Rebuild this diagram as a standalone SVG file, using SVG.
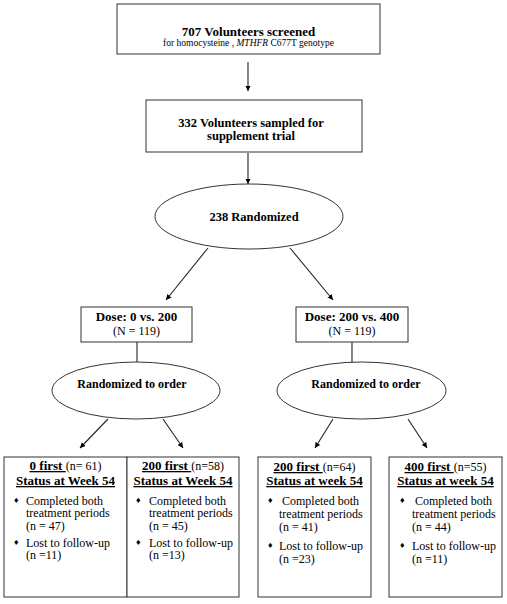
<svg xmlns="http://www.w3.org/2000/svg" width="507" height="604" viewBox="0 0 507 604">
<defs>
<marker id="ah" viewBox="0 0 8 8" refX="8" refY="4" markerWidth="5.5" markerHeight="5.5" orient="auto" markerUnits="userSpaceOnUse">
<path d="M0,0 L8,4 L0,8 z" fill="#000"/>
</marker>
</defs>
<style>
.bx{fill:#fff;stroke:#333;stroke-width:1}
.ln{stroke:#222;stroke-width:1.1;fill:none}
.ar{stroke:#222;stroke-width:1.1;fill:none;marker-end:url(#ah)}
text{font-family:"Liberation Serif","Times New Roman",serif;fill:#000}
.b{font-weight:bold;font-size:13px}
.r{font-size:12px}
.d{font-size:9px}
.m{text-anchor:middle}
.u{text-decoration:underline}
</style>
<rect width="507" height="604" fill="#fff"/>
<g id="connectors">
<line class="ar" x1="248" y1="62" x2="248" y2="91"/>
<line class="ar" x1="248" y1="153" x2="248" y2="184"/>
<line class="ar" x1="208" y1="248" x2="166" y2="300"/>
<line class="ar" x1="290" y1="248" x2="333" y2="300"/>
<line class="ln" x1="137" y1="342" x2="137" y2="362"/>
<line class="ln" x1="352" y1="342" x2="352" y2="362"/>
<line class="ar" x1="108" y1="419" x2="80" y2="448"/>
<line class="ar" x1="163" y1="419" x2="183" y2="448"/>
<line class="ar" x1="333" y1="419" x2="315" y2="448"/>
<line class="ar" x1="408" y1="419" x2="427" y2="448"/>
</g>
<g id="screened">
<rect class="bx" x="117" y="4" width="263" height="50"/>
<text class="b m" x="248.5" y="36">707 Volunteers screened</text>
<text class="m" x="248.5" y="46" style="font-size:9.5px">for homocysteine , <tspan font-style="italic">MTHFR</tspan> C677T genotype</text>
</g>
<g id="sampled">
<rect class="bx" x="146" y="100" width="216" height="52"/>
<text class="b m" x="251" y="126.5" style="font-size:12.5px">332 Volunteers sampled for</text>
<text class="b m" x="251" y="139.5" style="font-size:12.5px">supplement trial</text>
</g>
<g id="randomized">
<ellipse class="bx" cx="249" cy="216.5" rx="94" ry="32.5"/>
<text class="b m" x="254" y="221" style="font-size:12.5px">238 Randomized</text>
</g>
<g id="dose1">
<rect class="bx" x="81" y="307" width="111" height="35"/>
<text class="b m" x="136.5" y="321">Dose: 0 vs. 200</text>
<text class="r m" x="136.5" y="335">(N = 119)</text>
</g>
<g id="dose2">
<rect class="bx" x="296" y="307" width="112" height="35"/>
<text class="b m" x="352" y="321">Dose: 200 vs. 400</text>
<text class="r m" x="352" y="335">(N = 119)</text>
</g>
<g id="order1">
<ellipse class="bx" cx="136" cy="390.5" rx="84" ry="28.5"/>
<text class="b m" x="132" y="388" style="font-size:12px">Randomized  to order</text>
</g>
<g id="order2">
<ellipse class="bx" cx="361.5" cy="390.5" rx="84.5" ry="28.5"/>
<text class="b m" x="366" y="388" style="font-size:12px">Randomized  to order</text>
</g>
<g id="first0">
<rect class="bx" x="4" y="457" width="123" height="140"/>
<text class="m r" x="65.5" y="470"><tspan class="b u">0 first </tspan>(n= 61)</text>
<text class="b m u" x="65.5" y="485">Status  at Week 54</text>
<text class="d" x="14" y="503">♦</text>
<text class="r" x="26" y="505">Completed both</text>
<text class="r" x="26" y="517">treatment periods</text>
<text class="r" x="26" y="530">(n = 47)</text>
<text class="d" x="14" y="545">♦</text>
<text class="r" x="26" y="547">Lost to follow-up</text>
<text class="r" x="26" y="559">(n =11)</text>
</g>
<g id="first200a">
<rect class="bx" x="127" y="457" width="112" height="140"/>
<text class="m r" x="183" y="470"><tspan class="b u">200 first </tspan>(n=58)</text>
<text class="b m u" x="183" y="485">Status  at Week 54</text>
<text class="d" x="136" y="503">♦</text>
<text class="r" x="149" y="505">Completed both</text>
<text class="r" x="149" y="517">treatment periods</text>
<text class="r" x="149" y="530">(n = 45)</text>
<text class="d" x="136" y="545">♦</text>
<text class="r" x="149" y="547">Lost to follow-up</text>
<text class="r" x="149" y="559">(n =13)</text>
</g>
<g id="first200b">
<rect class="bx" x="258" y="457" width="113" height="140"/>
<text class="m r" x="314.5" y="471"><tspan class="b u">200 first </tspan>(n=64)</text>
<text class="b m u" x="314.5" y="485">Status  at week 54</text>
<text class="d" x="268" y="503">♦</text>
<text class="r" x="282" y="505">Completed both</text>
<text class="r" x="279" y="518">treatment periods</text>
<text class="r" x="279" y="531">(n = 41)</text>
<text class="d" x="268" y="548">♦</text>
<text class="r" x="279" y="550">Lost to follow-up</text>
<text class="r" x="279" y="563">(n =23)</text>
</g>
<g id="first400">
<rect class="bx" x="389" y="457" width="113" height="140"/>
<text class="m r" x="445.5" y="471"><tspan class="b u">400 first </tspan>(n=55)</text>
<text class="b m u" x="445.5" y="485">Status  at week 54</text>
<text class="d" x="400" y="503">♦</text>
<text class="r" x="415" y="505">Completed both</text>
<text class="r" x="412" y="518">treatment periods</text>
<text class="r" x="412" y="531">(n = 44)</text>
<text class="d" x="400" y="548">♦</text>
<text class="r" x="412" y="550">Lost to follow-up</text>
<text class="r" x="412" y="563">(n =11)</text>
</g>
</svg>
